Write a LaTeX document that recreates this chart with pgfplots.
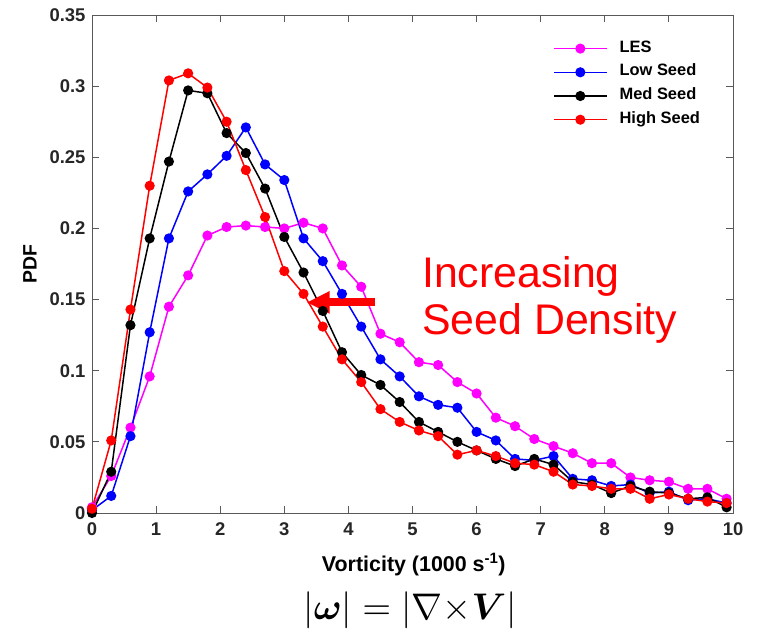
\documentclass[border=0pt]{standalone}
\usepackage{pgfplots}
\pgfplotsset{compat=1.18}
\usepackage{amsmath}
\usepackage{graphicx}
\usepackage{fontspec}
\setmainfont{Liberation Sans}
\usetikzlibrary{arrows.meta}
\definecolor{axgray}{gray}{0.35}
\definecolor{lblgray}{gray}{0.15}
\definecolor{mag}{rgb}{1,0,1}
\definecolor{blu}{rgb}{0,0,1}
\definecolor{rd}{rgb}{1,0,0}
\begin{document}
\begin{tikzpicture}
\path[use as bounding box] (-92bp,-123bp) rectangle (665bp,513bp);
\begin{axis}[
  at={(0,0)}, anchor=south west,
  scale only axis, width=641bp, height=498bp,
  xmin=0, xmax=10, ymin=0, ymax=0.35,
  xtick={0,1,2,3,4,5,6,7,8,9,10},
  ytick={0,0.05,0.1,0.15,0.2,0.25,0.3,0.35},
  yticklabels={0,0.05,0.1,0.15,0.2,0.25,0.3,0.35},
  scaled y ticks=false,
  /pgf/number format/assume math mode=true,
  tick align=inside,
  major tick length=7bp,
  axis line style={axgray, line width=0.9bp},
  tick style={axgray, line width=0.9bp},
  ticklabel style={font=\bfseries\fontsize{18.5}{18.5}\selectfont, text=lblgray},
  xticklabel style={yshift=-6bp},
  yticklabel style={xshift=-3bp},
  xlabel={Vorticity (1000 s\textsuperscript{-1})},
  xlabel style={at={(axis description cs:0.502,-0.104)}, anchor=center, font=\bfseries\fontsize{21.5}{21.5}\selectfont, text=black},
  ylabel={PDF},
  ylabel style={at={(axis description cs:-0.0967,0.5)}, anchor=center, font=\bfseries\fontsize{19.5}{19.5}\selectfont, text=black},
  every axis plot/.append style={line width=1.5bp, mark=*, mark size=4.3bp},
  legend image code/.code={\draw[mark repeat=2,mark phase=2,#1] plot coordinates {(0bp,0bp) (26.5bp,0bp) (53bp,0bp)};},
  legend cell align=left,
  legend style={draw=none, fill=none, at={(rel axis cs:0.719,0.952)}, anchor=north west,
    inner sep=0pt, row sep=4.7bp, column sep=10bp,
    nodes={text height=11bp, text depth=4bp, inner sep=2bp},
    font=\bfseries\fontsize{16.5}{16.5}\selectfont},
]
\addplot[mag, mark options={fill=mag}] coordinates {
(0,0.004) (0.3,0.026) (0.6,0.060) (0.9,0.096) (1.2,0.145) (1.5,0.167) (1.8,0.195) (2.1,0.201) (2.4,0.202) (2.7,0.201)
(3.0,0.200) (3.3,0.204) (3.6,0.200) (3.9,0.174) (4.2,0.159) (4.5,0.126) (4.8,0.120) (5.1,0.106) (5.4,0.104) (5.7,0.092)
(6.0,0.084) (6.3,0.067) (6.6,0.061) (6.9,0.052) (7.2,0.047) (7.5,0.042) (7.8,0.035) (8.1,0.035) (8.4,0.025) (8.7,0.023)
(9.0,0.022) (9.3,0.017) (9.6,0.017) (9.9,0.010)};
\addlegendentry{LES}
\addplot[blu, mark options={fill=blu}] coordinates {
(0,0.002) (0.3,0.012) (0.6,0.054) (0.9,0.127) (1.2,0.193) (1.5,0.226) (1.8,0.238) (2.1,0.251) (2.4,0.271) (2.7,0.245)
(3.0,0.234) (3.3,0.193) (3.6,0.177) (3.9,0.154) (4.2,0.131) (4.5,0.108) (4.8,0.096) (5.1,0.082) (5.4,0.076) (5.7,0.074)
(6.0,0.057) (6.3,0.051) (6.6,0.038) (6.9,0.037) (7.2,0.040) (7.5,0.024) (7.8,0.023) (8.1,0.019) (8.4,0.020) (8.7,0.014)
(9.0,0.015) (9.3,0.009) (9.6,0.010) (9.9,0.007)};
\addlegendentry{Low Seed}
\addplot[black, mark options={fill=black}] coordinates {
(0,0.000) (0.3,0.029) (0.6,0.132) (0.9,0.193) (1.2,0.247) (1.5,0.297) (1.8,0.295) (2.1,0.267) (2.4,0.253) (2.7,0.228)
(3.0,0.194) (3.3,0.169) (3.6,0.142) (3.9,0.113) (4.2,0.097) (4.5,0.090) (4.8,0.078) (5.1,0.064) (5.4,0.057) (5.7,0.050)
(6.0,0.044) (6.3,0.038) (6.6,0.033) (6.9,0.038) (7.2,0.034) (7.5,0.022) (7.8,0.020) (8.1,0.014) (8.4,0.019) (8.7,0.015)
(9.0,0.014) (9.3,0.010) (9.6,0.011) (9.9,0.004)};
\addlegendentry{Med Seed}
\addplot[rd, mark options={fill=rd}] coordinates {
(0,0.003) (0.3,0.051) (0.6,0.143) (0.9,0.230) (1.2,0.304) (1.5,0.309) (1.8,0.299) (2.1,0.275) (2.4,0.241) (2.7,0.208)
(3.0,0.170) (3.3,0.154) (3.6,0.131) (3.9,0.108) (4.2,0.092) (4.5,0.073) (4.8,0.064) (5.1,0.058) (5.4,0.054) (5.7,0.041)
(6.0,0.044) (6.3,0.040) (6.6,0.035) (6.9,0.034) (7.2,0.029) (7.5,0.020) (7.8,0.019) (8.1,0.017) (8.4,0.017) (8.7,0.010)
(9.0,0.013) (9.3,0.010) (9.6,0.008) (9.9,0.007)};
\addlegendentry{High Seed}
\draw[rd, line width=8bp, -{Triangle[length=23bp,width=21bp]}] (axis cs:4.415,0.148) -- (axis cs:3.35,0.148);
\node[anchor=base west, inner sep=0pt, text=rd, font=\fontsize{43}{43}\selectfont] at (axis cs:5.148,0.1588) {Increasing};
\node[anchor=base west, inner sep=0pt, text=rd, font=\fontsize{43}{43}\selectfont] at (axis cs:5.148,0.1251) {Seed Density};
\end{axis}
\node[anchor=center, inner sep=0pt] at (318bp,-97bp) {\resizebox{213bp}{!}{$\lvert\boldsymbol{\omega}\rvert = \lvert\nabla{\times}\boldsymbol{V}\rvert$}};
\end{tikzpicture}
\end{document}
